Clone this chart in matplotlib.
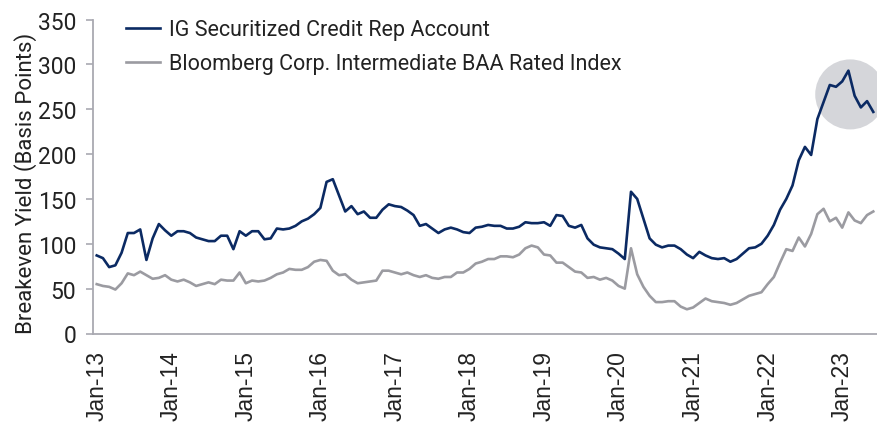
import numpy as np
import matplotlib
matplotlib.use('Agg')
import matplotlib.pyplot as plt
from matplotlib.patches import Ellipse

# monthly, Jan-13 .. Jun-23
years = list(range(13, 24))
months = ['Jan', 'Feb', 'Mar', 'Apr', 'May', 'Jun',
          'Jul', 'Aug', 'Sep', 'Oct', 'Nov', 'Dec']
dates = [m + '-' + str(y) for y in years for m in months][:126]

ig_rep = [87, 84, 74, 76, 90, 112, 112, 116, 82, 106, 122, 115,
          109, 114, 114, 112, 107, 105, 103, 103, 109, 109, 94, 114,
          109, 114, 114, 105, 106, 117, 116, 117, 120, 125, 128, 133,
          140, 169, 172, 154, 136, 142, 133, 136, 129, 129, 138, 144,
          142, 141, 137, 132, 120, 122, 117, 112, 116, 118, 116, 113,
          112, 118, 119, 121, 120, 120, 117, 117, 119, 124, 123, 123,
          124, 120, 132, 131, 120, 118, 121, 106, 99, 96, 95, 94,
          89, 83, 158, 150, 128, 106, 99, 96, 98, 98, 94, 88,
          84, 91, 87, 84, 83, 84, 80, 83, 89, 95, 96, 100,
          109, 121, 138, 150, 165, 193, 208, 199, 239, 258, 277, 275,
          281, 293, 265, 252, 259, 247]

bbg_baa = [55, 53, 52, 49, 56, 67, 65, 69, 65, 61, 62, 65,
           60, 58, 60, 57, 53, 55, 57, 55, 60, 59, 59, 68,
           56, 59, 58, 59, 62, 66, 68, 72, 71, 71, 74, 80,
           82, 81, 70, 65, 66, 60, 56, 57, 58, 59, 70, 70,
           68, 66, 68, 65, 63, 65, 62, 61, 63, 63, 68, 68,
           72, 78, 80, 83, 83, 86, 86, 85, 88, 95, 98, 96,
           88, 87, 79, 79, 74, 69, 68, 62, 63, 60, 62, 59,
           53, 50, 95, 66, 52, 42, 35, 35, 36, 36, 30, 27,
           29, 34, 39, 36, 35, 34, 32, 34, 38, 42, 44, 46,
           55, 63, 79, 94, 92, 107, 97, 111, 133, 139, 125, 129,
           118, 135, 126, 123, 132, 136]

blue = '#0b2a63'
grey = '#9b9ba1'
axis_col = '#a9a9b1'

x = np.arange(len(dates))

fig = plt.figure(figsize=(8.77, 4.27), dpi=100)
ax = fig.add_axes([93 / 877, 1 - 334.5 / 427, 784 / 877, 314 / 427])

# highlight circle around the recent peak
ax.add_patch(Ellipse((121.3, 266.5), 70 / 6.2, 70 / 0.897,
                     facecolor='#d5d6da', edgecolor='none', zorder=1))

ax.plot(x, ig_rep, color=blue, lw=1.9, zorder=3,
        label='IG Securitized Credit Rep Account')
ax.plot(x, bbg_baa, color=grey, lw=1.9, zorder=2,
        label='Bloomberg Corp. Intermediate BAA Rated Index')

ax.set_ylim(0, 350)
ax.set_xlim(-0.6, 125.6)
ax.set_yticks(np.arange(0, 351, 50))
ax.set_xticks(x[::12])
ax.set_xticklabels(dates[::12], rotation=90, fontsize=16.5,
                   family='Liberation Sans', color='#222222')
for lab in ax.get_yticklabels():
    lab.set_family('Roboto')
ax.tick_params(axis='y', length=5, width=1.2, color=axis_col,
               labelsize=16.5, labelcolor='#222222', pad=7)
ax.tick_params(axis='x', length=0, pad=12)

for s in ['top', 'right']:
    ax.spines[s].set_visible(False)
for s in ['left', 'bottom']:
    ax.spines[s].set_color(axis_col)
    ax.spines[s].set_linewidth(1.3)

ax.set_ylabel('Breakeven Yield (Basis Points)', fontsize=16,
              family='Roboto', color='#222222')
ax.yaxis.set_label_coords(-0.072, 0.48)

leg = ax.legend(loc='upper left', bbox_to_anchor=(0.018, 1.062), frameon=False,
                prop={'family': 'Roboto', 'size': 15.5}, handlelength=1.55,
                handletextpad=0.42, labelspacing=0.6)
for t in leg.get_texts():
    t.set_color('#222222')

fig.savefig('out.png', dpi=100)
